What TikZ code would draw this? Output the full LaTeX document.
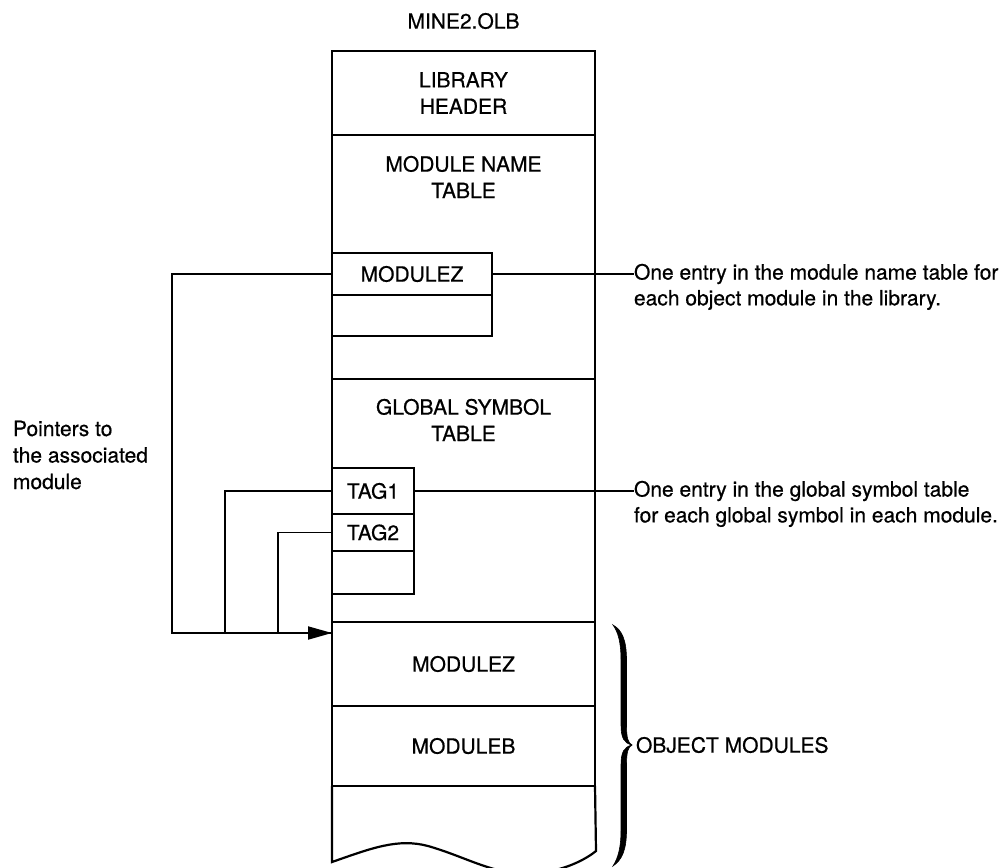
\documentclass[tikz,border=0pt]{standalone}
\usepackage{fontspec}
\setmainfont{TeX Gyre Heros}[FakeBold=0.6]
\usetikzlibrary{arrows.meta}
\begin{document}
\begin{tikzpicture}[x=1pt,y=-1pt,
  every node/.style={font=\fontsize{21}{26.5}\selectfont, outer sep=0pt},
  ln/.style={line width=1.9pt},
  box/.style={line width=2.2pt},
  sec/.style={draw, box, anchor=north west, minimum width=263pt, inner sep=0pt, align=center},
  cell/.style={draw, box, anchor=north west, inner sep=0pt},
  lbl/.style={align=center, inner sep=0pt},
  note/.style={anchor=west, inner sep=0pt},
  ]
\useasboundingbox (0,0) rectangle (1000,867);

% title
\node[lbl] (title) at (463.5,21) {MINE2.OLB};

% main sections
\node[sec, minimum height=84pt] (hdr) at (332,51) {LIBRARY\\HEADER};
\node[sec, minimum height=244pt] (mnt) at (332,135) {};
\node[lbl] (mntt) at (463.5,177) {MODULE NAME\\TABLE};
\node[sec, minimum height=243pt] (gst) at (332,379) {};
\node[lbl] (gstt) at (463.5,420) {GLOBAL SYMBOL\\TABLE};
\node[sec, minimum height=84pt] (objz) at (332,622) {MODULEZ};
\node[sec, minimum height=80pt] (objb) at (332,706) {MODULEB};
\draw[box] (objb.south west) -- (332,862)
  .. controls (372,848) and (398,838) .. (428,846)
  .. controls (470,858) and (498,878) .. (540,873)
  .. controls (568,869) and (586,859) .. (596,851)
  -- (objb.south east);

% entry cells
\node[cell, minimum width=160pt, minimum height=42pt] (mze) at (332,253) {MODULEZ};
\node[cell, minimum width=160pt, minimum height=41pt] (mzb) at (mze.south west) {};
\node[cell, minimum width=82pt, minimum height=46pt] (tag1) at (332,468) {TAG1};
\node[cell, minimum width=82pt, minimum height=37pt] (tag2) at (tag1.south west) {TAG2};
\node[cell, minimum width=82pt, minimum height=43pt] (tagb) at (tag2.south west) {};

% pointers
\coordinate (ptr) at ([yshift=-11pt]objz.north west);
\draw[ln] (tag1.west) -- ++(-107,0) |- (ptr);
\draw[ln] (tag2.west) -- ++(-54,0) |- (ptr);
\draw[ln, -{Triangle[length=24pt,width=13pt]}] (mze.west) -- ++(-160,0) |- (ptr);
\node[anchor=west, align=left, inner sep=0pt] (ptrs) at (13,455) {Pointers to\\the associated\\module};

% notes
\node[note] (n1a) at (634,274) {One entry in the module name table for};
\node[note] (n1b) at (634,300) {each object module in the library.};
\draw[ln] (mze.east) -- (n1a.west);
\node[note] (n2a) at (634,491) {One entry in the global symbol table};
\node[note] (n2b) at (634,517) {for each global symbol in each module.};
\draw[ln] (tag1.east) -- (n2a.west);

% brace (calligraphic, filled)
\coordinate (bt) at (613,625);
\coordinate (bb) at (613,866);
\coordinate (btip) at (632,745);
\fill[draw, line width=0.6pt] (bt)
  .. controls (622,630) and (626.5,640) .. (626.5,660) -- (626.5,725)
  .. controls (626.5,738) and (628,743) .. (btip)
  .. controls (628,747) and (626.5,752) .. (626.5,765) -- (626.5,830)
  .. controls (626.5,850) and (622,860) .. (bb)
  .. controls (618,858) and (621,848) .. (621,830) -- (621,765)
  .. controls (621,752) and (624,747) .. (btip)
  .. controls (624,743) and (621,738) .. (621,725) -- (621,660)
  .. controls (621,642) and (618,632) .. (bt) -- cycle;
\node[note] (objm) at (636,745) {OBJECT MODULES};
\end{tikzpicture}
\end{document}
